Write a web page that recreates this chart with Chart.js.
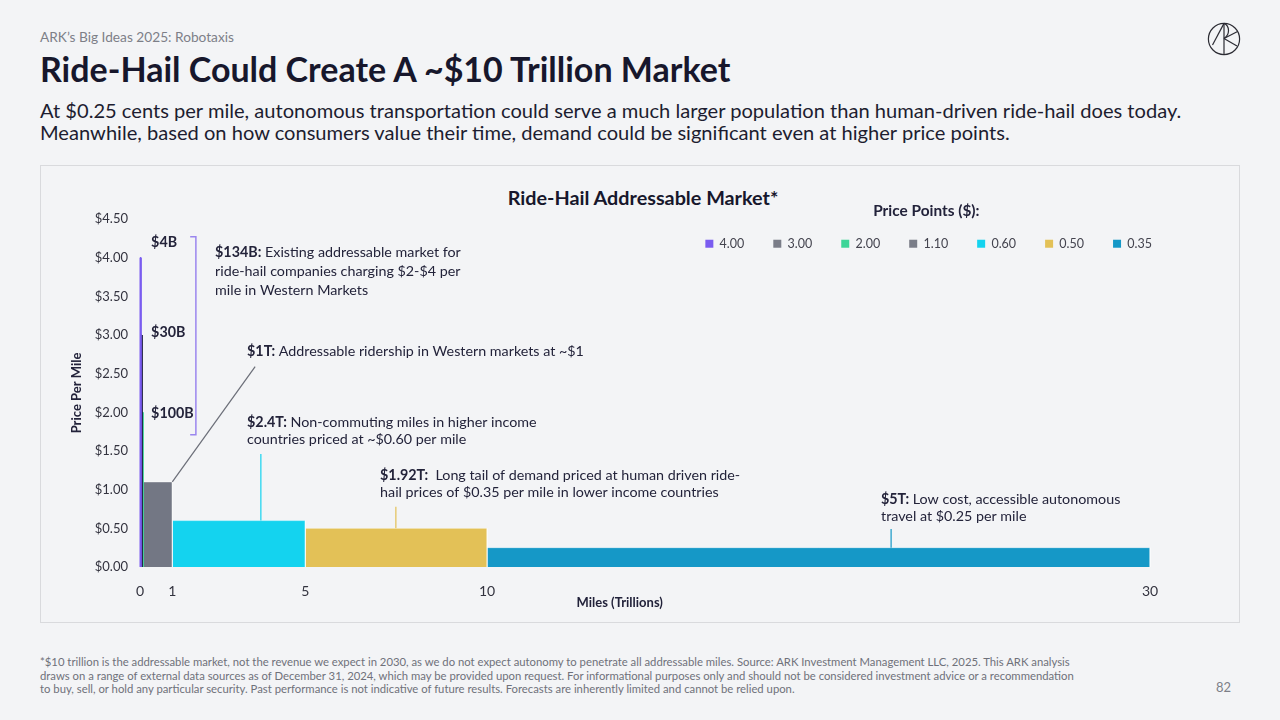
<!DOCTYPE html>
<html lang="en">
<head>
<meta charset="UTF-8">
<title>Ride-Hail Addressable Market</title>
<script src="https://cdn.jsdelivr.net/npm/chart.js"></script>
<style>
    body {
        margin: 0;
        width: 1280px;
        height: 720px;
        position: relative;
        overflow: hidden;
        background-color: #f3f4f6;
        font-family: Lato, "Noto Sans", sans-serif;
        color: #17172c;
    }
    .kicker {
        position: absolute;
        left: 40px;
        top: 28px;
        font-size: 13.7px;
        line-height: 18px;
        color: #7d7f88;
    }
    h1 {
        position: absolute;
        left: 40px;
        top: 51px;
        margin: 0;
        font-size: 34px;
        line-height: 36px;
        font-weight: 700;
    }
    .sub {
        position: absolute;
        left: 40px;
        top: 99px;
        font-size: 20.1px;
        line-height: 22px;
        color: #1d1d30;
    }
    .panel {
        position: absolute;
        left: 40px;
        top: 165px;
        width: 1198px;
        height: 456px;
        border: 1px solid #d9dadd;
    }
    .chart-title {
        position: absolute;
        left: 0;
        right: 0;
        top: 186px;
        padding-left: 6px;
        text-align: center;
        font-size: 19.8px;
        line-height: 22px;
        font-weight: 700;
    }
    #chartBox {
        position: absolute;
        left: 40px;
        top: 165px;
        width: 1200px;
        height: 458px;
    }
    .foot {
        position: absolute;
        left: 40px;
        top: 655px;
        font-size: 11.3px;
        line-height: 13.5px;
        color: #6f717a;
    }
    .page-no {
        position: absolute;
        left: 1216px;
        top: 679px;
        font-size: 13px;
        color: #7d7f88;
    }
    .logo {
        position: absolute;
        left: 1206px;
        top: 21px;
    }
</style>
</head>
<body>
    <div class="kicker">ARK’s Big Ideas 2025: Robotaxis</div>
    <h1>Ride-Hail Could Create A ~$10 Trillion Market</h1>
    <div class="sub">At $0.25 cents per mile, autonomous transportation could serve a much larger population than human-driven ride-hail does today.<br>Meanwhile, based on how consumers value their time, demand could be significant even at higher price points.</div>

    <svg class="logo" width="36" height="36" viewBox="0 0 36 36" fill="none" stroke="#2b2b33" stroke-width="1.2">
        <circle cx="18" cy="18" r="15.6"/>
        <line x1="18" y1="2.4" x2="18" y2="33.6"/>
        <line x1="18" y1="2.4" x2="6.5" y2="24"/>
        <path d="M18 2.4 C 24 5, 24 14, 18 17.5"/>
        <line x1="18" y1="17.5" x2="31.5" y2="10.5"/>
        <line x1="18" y1="17.5" x2="31" y2="25"/>
    </svg>

    <div class="panel"></div>
    <div class="chart-title">Ride-Hail Addressable Market*</div>
    <div id="chartBox"><canvas id="marketChart"></canvas></div>

    <div class="foot">*$10 trillion is the addressable market, not the revenue we expect in 2030, as we do not expect autonomy to penetrate all addressable miles. Source: ARK Investment Management LLC, 2025. This ARK analysis<br>draws on a range of external data sources as of December 31, 2024, which may be provided upon request. For informational purposes only and should not be considered investment advice or a recommendation<br>to buy, sell, or hold any particular security. Past performance is not indicative of future results. Forecasts are inherently limited and cannot be relied upon.</div>
    <div class="page-no">82</div>

<script>
    // price points shown in the legend, and the bar heights as drawn ($ per mile)
    const priceLabels = ['4.00', '3.00', '2.00', '1.10', '0.60', '0.50', '0.35'];
    const pricePerMile = [4.00, 3.00, 2.00, 1.10, 0.60, 0.50, 0.25];
    // bar widths in trillions of miles
    const milesTrillions = [0.03, 0.03, 0.03, 0.87, 3.95, 5.40, 19.69];
    const barColors = ['#7a5cf0', '#1b1b3a', '#3dd598', '#737784', '#14d3ef', '#e3c157', '#1598c7'];
    const legendColors = ['#7a5cf0', '#7a7d88', '#3dd598', '#7a7d88', '#14d3ef', '#e3c157', '#1598c7'];
    const xTickLabels = ['0', '1', '5', '10', '30'];
    const xTickEdgeIndex = [0, 4, 5, 6, 7];
    const yTickStep = 0.5;
    const yMax = 4.5;
    const xMax = 30;

    // cumulative bar edges
    const edges = [0];
    milesTrillions.forEach(w => edges.push(+(edges[edges.length - 1] + w).toFixed(4)));

    // callout texts
    const notes = [
        { bold: '$4B', lines: [''] },
        { bold: '$30B', lines: [''] },
        { bold: '$100B', lines: [''] },
        { bold: '$134B:', lines: [' Existing addressable market for', 'ride-hail companies charging $2-$4 per', 'mile in Western Markets'] },
        { bold: '$1T:', lines: [' Addressable ridership in Western markets at ~$1'] },
        { bold: '$2.4T:', lines: [' Non-commuting miles in higher income', 'countries priced at ~$0.60 per mile'] },
        { bold: '$1.92T:', lines: ['  Long tail of demand priced at human driven ride-', 'hail prices of $0.35 per mile in lower income countries'] },
        { bold: '$5T:', lines: [' Low cost, accessible autonomous', 'travel at $0.25 per mile'] }
    ];
    // where each callout sits (data units) and its line spacing in px
    const notePlace = [
        [0.33, 4.20, 19], [0.33, 3.03, 19], [0.33, 1.99, 19],
        [2.23, 4.07, 19], [3.18, 2.79, 17], [3.18, 1.87, 16.5],
        [7.13, 1.19, 17], [22.01, 0.88, 17]
    ];

    // non-breaking spaces used to nudge centred titles left
    const nudge = n => '\u00a0'.repeat(n);

    const datasets = pricePerMile.map((p, i) => ({
        label: priceLabels[i],
        data: [
            { x: edges[i], y: 0 },
            { x: edges[i], y: p },
            { x: edges[i + 1], y: p },
            { x: edges[i + 1], y: 0 }
        ],
        backgroundColor: barColors[i],
        borderColor: i < 3 ? barColors[i] : 'rgba(255,255,255,0.45)',
        borderWidth: 1,
        fill: 'origin',
        pointRadius: 0,
        tension: 0,
        clip: false
    }));

    // the legend sits over the top of the plot; give its clip box room for the item row
    const legendRoom = {
        id: 'legendRoom',
        afterLayout(chart) {
            const lg = chart.legend;
            lg.height = 110;
            lg.bottom = lg.top + 110;
        }
    };

    // callouts, bracket and leader lines
    const calloutPlugin = {
        id: 'callouts',
        afterDatasetsDraw(chart) {
            const { ctx, scales: { x, y } } = chart;
            ctx.save();

            // leader lines
            const leaders = [
                { x1: 3.42, y1: 2.59, x2: edges[4], y2: pricePerMile[3], color: '#6b6e78' },
                { x1: 3.59, y1: 1.46, x2: 3.59, y2: pricePerMile[4], color: barColors[4] },
                { x1: 7.60, y1: 0.78, x2: 7.60, y2: pricePerMile[5], color: barColors[5] },
                { x1: 22.31, y1: 0.49, x2: 22.31, y2: pricePerMile[6], color: barColors[6] }
            ];
            ctx.lineWidth = 1.2;
            leaders.forEach(l => {
                ctx.strokeStyle = l.color;
                ctx.beginPath();
                ctx.moveTo(x.getPixelForValue(l.x1), y.getPixelForValue(l.y1));
                ctx.lineTo(x.getPixelForValue(l.x2), y.getPixelForValue(l.y2));
                ctx.stroke();
            });

            // bracket around the $4B / $30B / $100B group
            const bx0 = x.getPixelForValue(1.49), bx1 = x.getPixelForValue(1.66);
            const by0 = y.getPixelForValue(4.27), by1 = y.getPixelForValue(1.71);
            ctx.strokeStyle = '#9a86ee';
            ctx.lineWidth = 1.5;
            ctx.beginPath();
            ctx.moveTo(bx0, by0);
            ctx.lineTo(bx1, by0);
            ctx.lineTo(bx1, by1);
            ctx.lineTo(bx0, by1);
            ctx.stroke();

            // texts
            ctx.textBaseline = 'middle';
            ctx.textAlign = 'left';
            ctx.fillStyle = '#23233a';
            notes.forEach((n, i) => {
                const [nx, ny, lh] = notePlace[i];
                const px = x.getPixelForValue(nx);
                const py = y.getPixelForValue(ny);
                ctx.font = 'bold 14.3px Lato';
                ctx.fillText(n.bold, px, py);
                const bw = ctx.measureText(n.bold).width;
                ctx.font = '14.3px Lato';
                n.lines.forEach((t, k) => {
                    ctx.fillText(t, k === 0 ? px + bw : px, py + k * lh);
                });
            });
            ctx.restore();
        }
    };

    Chart.defaults.font.family = 'Lato';
    Chart.defaults.color = '#33333f';

    const ctx = document.getElementById('marketChart').getContext('2d');
    const marketChart = new Chart(ctx, {
        type: 'line',
        data: { datasets: datasets },
        options: {
            responsive: true,
            maintainAspectRatio: false,
            animation: false,
            layout: { padding: { left: 25, right: 59, top: 0, bottom: 10 } },
            plugins: {
                tooltip: { enabled: false },
                legend: {
                    position: 'top',
                    align: 'end',
                    maxHeight: 54,
                    title: {
                        display: true,
                        text: 'Price Points ($):' + nudge(9),
                        color: '#22223a',
                        font: { size: 15.4, weight: 'bold' },
                        padding: { top: 38, bottom: -13 }
                    },
                    labels: {
                        boxWidth: 8,
                        boxHeight: 8,
                        padding: 29,
                        color: '#44444f',
                        font: { size: 12.5 },
                        generateLabels: chart => chart.data.datasets.map((ds, i) => ({
                            text: ds.label,
                            fillStyle: legendColors[i],
                            strokeStyle: legendColors[i],
                            lineWidth: 0,
                            hidden: false,
                            datasetIndex: i,
                            fontColor: '#44444f'
                        }))
                    }
                }
            },
            scales: {
                x: {
                    type: 'linear',
                    min: 0,
                    max: xMax,
                    grid: { display: false, drawTicks: false },
                    border: { display: false },
                    afterBuildTicks: s => {
                        s.ticks = xTickEdgeIndex.map(k => ({ value: edges[k] }));
                    },
                    afterFit: s => {
                        s.height = 46;
                        s.paddingRight = 90;
                    },
                    ticks: {
                        padding: 16,
                        color: '#33333f',
                        font: { size: 14 },
                        callback: (v, i) => xTickLabels[i]
                    },
                    title: {
                        display: true,
                        text: 'Miles (Trillions)' + nudge(16),
                        color: '#22223a',
                        font: { size: 13, weight: 'bold' },
                        padding: { top: 0, bottom: 2 }
                    }
                },
                y: {
                    min: 0,
                    max: yMax,
                    grid: { display: false, drawTicks: false },
                    border: { display: false },
                    afterFit: s => { s.width = 75; },
                    ticks: {
                        stepSize: yTickStep,
                        padding: 12,
                        color: '#33333f',
                        font: { size: 13 },
                        callback: v => '$' + v.toFixed(2)
                    },
                    title: {
                        display: true,
                        text: 'Price Per Mile',
                        color: '#22223a',
                        font: { size: 13, weight: 'bold' },
                        padding: { top: 4, bottom: 0 }
                    }
                }
            }
        },
        plugins: [legendRoom, calloutPlugin]
    });
</script>
</body>
</html>
